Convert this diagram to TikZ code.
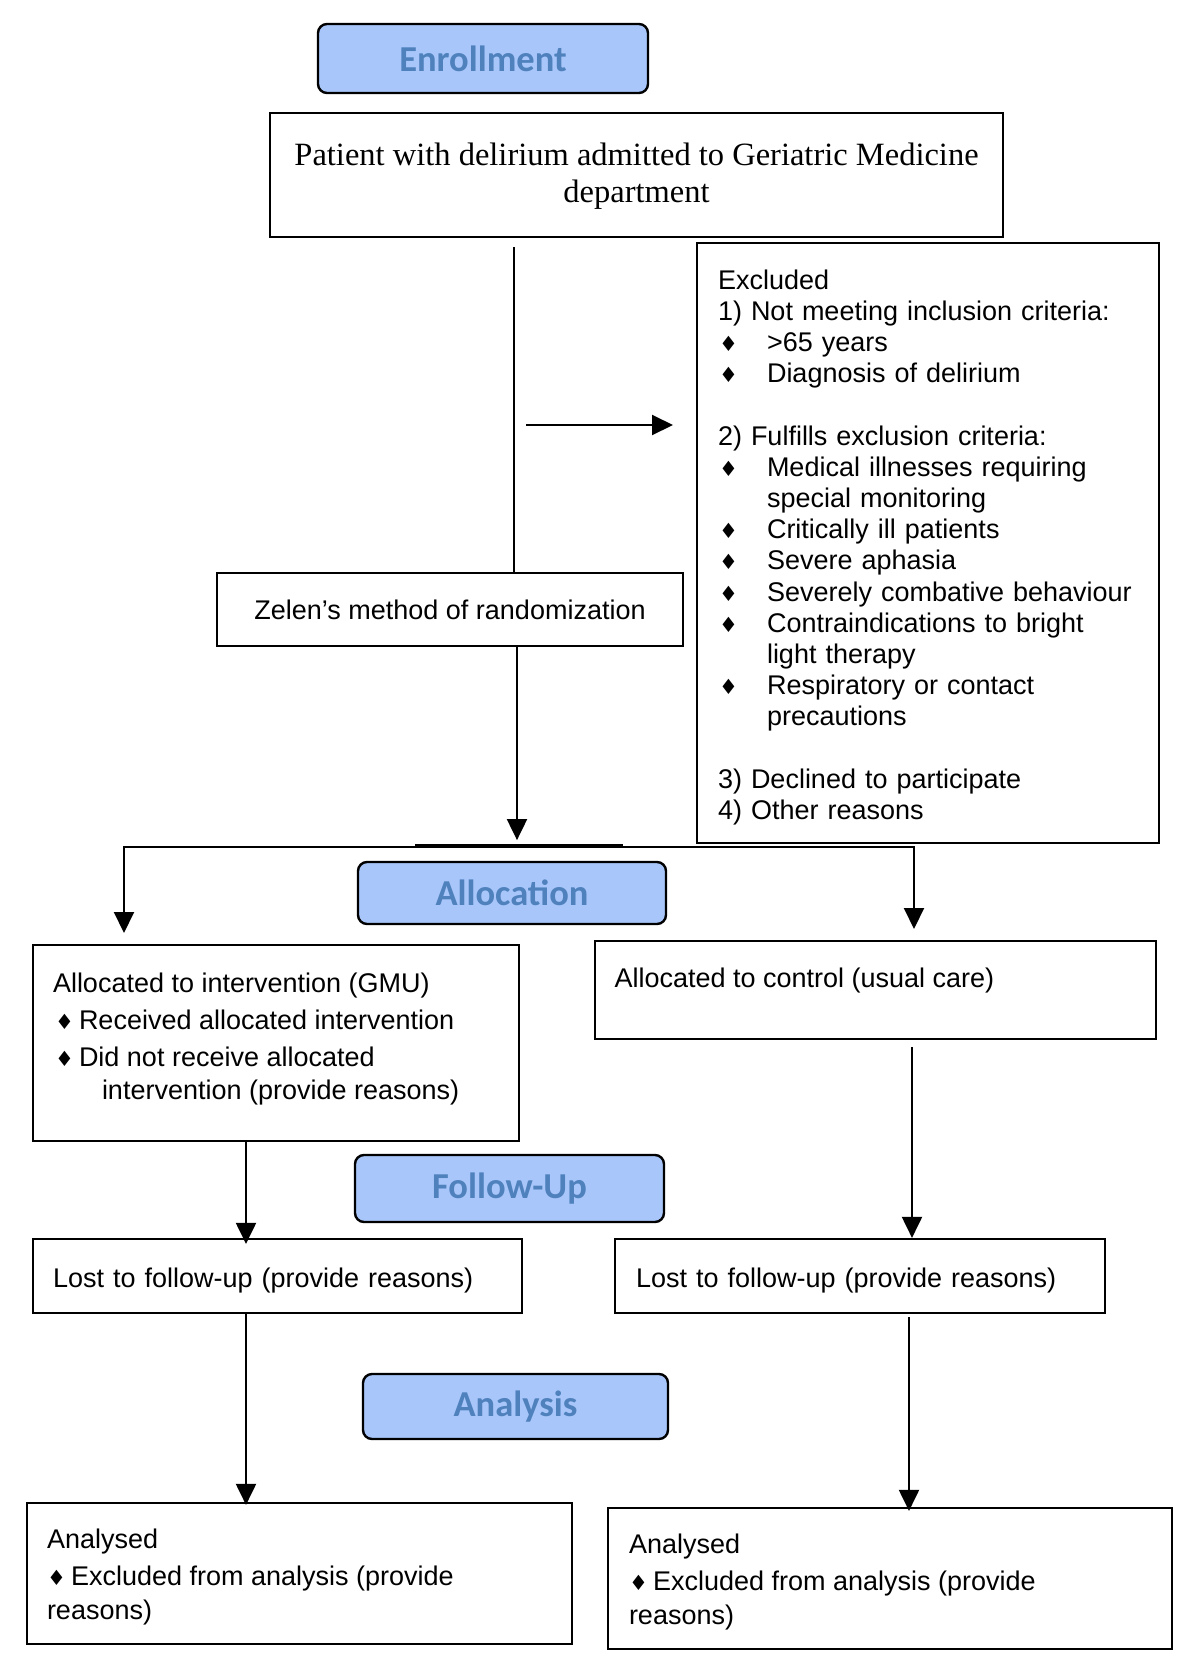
\documentclass[tikz,border=0pt]{standalone}
\usepackage{fontspec}
\setmainfont{Liberation Sans}
\newfontfamily\seriffont{Liberation Serif}
\newfontfamily\hdrfont{Carlito}
\newfontfamily\symfont{DejaVu Sans}
\usetikzlibrary{arrows.meta}
\definecolor{hdrfill}{RGB}{168,198,250}
\definecolor{hdrtext}{RGB}{79,129,189}
\newcommand\dm{{\symfont\fontsize{21}{21}\selectfont ♦}}
\newcommand\xb{\makebox[49pt][l]{\hspace{1pt}\dm}}
\newcommand\ib{\makebox[26pt][l]{\hspace{2pt}\dm}}
\newcommand\ab{\makebox[24pt][l]{\hspace{0pt}\dm}}
\begin{document}
\begin{tikzpicture}[x=1pt,y=-1pt,
  box/.style={draw, line width=2.2pt, inner sep=0pt, font=\fontsize{27}{31.2}\selectfont},
  hdr/.style={draw, line width=2.4pt, fill=hdrfill, rounded corners=9pt, text=hdrtext,
    inner sep=0pt, font=\hdrfont\bfseries\fontsize{36.5}{40}\selectfont},
  conn/.style={line width=2pt},
  arr/.style={line width=2pt, -{Triangle[length=21pt,width=20pt]}},
  arrboth/.style={line width=2pt, {Triangle[length=21pt,width=20pt]}-{Triangle[length=21pt,width=20pt]}}]
\fill[white] (0,0) rectangle (1200,1674);
\useasboundingbox (0,0) rectangle (1200,1674);

% headers
\node[hdr, minimum width=330pt, minimum height=69pt] (enroll) at (483,58.5) {Enrollment};
\node[hdr, minimum width=308pt, minimum height=62pt] (alloc) at (512,893) {Allocation};
\node[hdr, minimum width=309pt, minimum height=67pt] (follow) at (509.5,1188.5) {Follow-Up};
\node[hdr, minimum width=305pt, minimum height=65pt] (analysis) at (515.5,1406.5) {Analysis};

% boxes
\node[box, minimum width=733pt, minimum height=124pt, align=center, text depth=8pt,
  font=\seriffont\fontsize{32.5}{37}\selectfont] (patient) at (636.5,175)
  {\rule{0pt}{26pt}Patient with delirium admitted to Geriatric Medicine\\department};

\node[box, minimum width=462pt, minimum height=600pt, text width=420pt, align=left] (excl) at (928,543)
  {\rule{0pt}{28.3pt}Excluded\\
   1) Not meeting inclusion criteria:\\
   \xb >65 years\\
   \xb Diagnosis of delirium\\[31.2pt]
   2) Fulfills exclusion criteria:\\
   \xb Medical illnesses requiring\\
   \hspace*{49pt}special monitoring\\
   \xb Critically ill patients\\
   \xb Severe aphasia\\
   \xb Severely combative behaviour\\
   \xb Contraindications to bright\\
   \hspace*{49pt}light therapy\\
   \xb Respiratory or contact\\
   \hspace*{49pt}precautions\\[31.2pt]
   3) Declined to participate\\
   4) Other reasons};

\node[box, minimum width=466pt, minimum height=73pt] (zelen) at (450,609.5)
  {Zelen’s method of randomization};

\node[box, minimum width=486pt, minimum height=196pt] (interv) at (276,1043)
  {\parbox[c][141pt][t]{446pt}{\fontsize{27}{33}\selectfont
   Allocated to intervention (GMU)\\[4pt]
   \ib Received allocated intervention\\[4pt]
   \ib Did not receive allocated\\
   \hspace*{49pt}intervention (provide reasons)}};

\node[box, minimum width=561pt, minimum height=98pt] (control) at (875.5,990)
  {\parbox[c][43.4pt][t]{522pt}{\fontsize{27}{33}\selectfont
   Allocated to control (usual care)}};

\node[box, minimum width=489pt, minimum height=74pt, text width=449pt, align=left,
  text height=27pt, text depth=5pt] (lostL) at (277.5,1276)
  {Lost to follow-up (provide reasons)};
\node[box, minimum width=490pt, minimum height=74pt, text width=448pt, align=left,
  text height=27pt, text depth=5pt] (lostR) at (860,1276)
  {Lost to follow-up (provide reasons)};

\node[box, minimum width=545pt, minimum height=141pt] (anaL) at (299.5,1573.5)
  {\parbox[c][88.4pt][t]{505pt}{\fontsize{27}{33.5}\selectfont
   Analysed\\[3.5pt]
   \ab Excluded from analysis (provide\\
   reasons)}};
\node[box, minimum width=564pt, minimum height=141pt] (anaR) at (890,1578.5)
  {\parbox[c][88.4pt][t]{522pt}{\fontsize{27}{33.5}\selectfont
   Analysed\\[3.5pt]
   \ab Excluded from analysis (provide\\
   reasons)}};

% connectors
\coordinate (c1) at (513.5,247);
\draw[conn] (c1) -- (c1 |- zelen.north);
\coordinate (a1) at (526,425);
\coordinate (a2) at (673,425);
\draw[arr] (a1) -- (a2);
\draw[arr] ([xshift=67pt]zelen.south) -- ([xshift=67pt,yshift=-193pt]zelen.south);

\coordinate (tL) at (124,933);
\coordinate (sL) at (124,847);
\coordinate (sR) at (914,847);
\coordinate (tR) at (914,929);
\draw[arrboth] (tL) -- (sL) -- (sR) -- (tR);
\coordinate (m1) at (415,845.5);
\coordinate (m2) at (623,845.5);
\draw[line width=3pt] (m1) -- (m2);

\draw[arr] ([xshift=-30pt]interv.south) -- ([xshift=-31.5pt,yshift=-6pt]lostL.north);
\draw[arr] ([xshift=36.5pt,yshift=-7pt]control.south) -- ([xshift=52pt]lostR.north);
\draw[arr] ([xshift=-31.5pt]lostL.south) -- ([xshift=-53.5pt,yshift=-3pt]anaL.north);
\draw[arr] ([xshift=49pt,yshift=-3pt]lostR.south) -- ([xshift=19pt,yshift=-4pt]anaR.north);
\end{tikzpicture}
\end{document}
